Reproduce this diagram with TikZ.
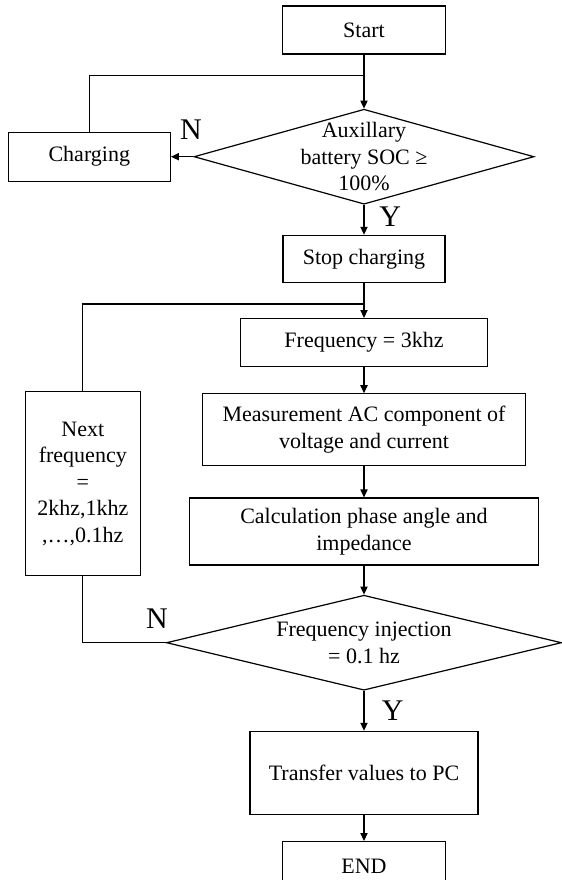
\documentclass[tikz,border=0pt]{standalone}
\usepackage{fontspec}
\setmainfont{Liberation Serif}
\usetikzlibrary{shapes.geometric,arrows.meta,positioning}

\begin{document}
\begin{tikzpicture}[
    font=\fontsize{11}{13.25}\selectfont,
    box/.style={rectangle, draw, line width=0.6pt, align=center, inner sep=2pt},
    decision/.style={diamond, draw, line width=0.6pt, inner sep=0pt},
    dtext/.style={align=center, inner sep=0pt},
    yn/.style={font=\fontsize{15}{18}\selectfont, inner sep=0pt},
    arrow/.style={-{Triangle[length=4pt, width=3.6pt]}, line width=0.6pt},
    line/.style={line width=0.6pt}
  ]
  \useasboundingbox (0,0) rectangle (281pt,-440pt);

  \node[box, minimum width=81.5pt, minimum height=24pt] (start) at (182pt,-15pt) {Start};
  \node[decision, minimum width=170pt, minimum height=47.5pt, below=27pt of start] (soc) {};
  \node[dtext] (soctxt) at (soc) {Auxillary\\battery SOC ≥\\100\%};
  \node[box, minimum width=81pt, minimum height=24.5pt, left=11.25pt of soc] (charge) {Charging};
  \node[box, minimum width=81pt, minimum height=23.5pt, below=15pt of soc] (stop) {Stop charging};
  \node[box, minimum width=123.5pt, minimum height=24pt, below=17.5pt of stop] (freq) {Frequency = 3khz};
  \node[box, minimum width=161.5pt, minimum height=36pt, below=13pt of freq] (meas) {Measurement AC component of\\voltage and current};
  \node[box, minimum width=174.5pt, minimum height=33.5pt, below=15.5pt of meas] (calc) {Calculation phase angle and\\impedance};
  \node[decision, minimum width=197.5pt, minimum height=47.5pt, below=14.5pt of calc] (inj) {};
  \node[dtext] (injtxt) at (inj) {Frequency injection\\= 0.1 hz};
  \node[box, minimum width=114pt, minimum height=41.5pt, below=20pt of inj] (transfer) {Transfer values to PC};
  \node[box, minimum width=81.5pt, minimum height=25pt, below=13pt of transfer] (end) {END};
  \node[box, minimum width=57.5pt, minimum height=92pt, left=30.5pt of meas.north west, anchor=north east, yshift=1pt] (next) {Next\\frequency\\=\\2khz,1khz\\,…,0.1hz};

  % yes / no labels
  \node[yn, above=8.5pt of soc.west, xshift=-1.25pt] (no1) {N};
  \node[yn, below right=1pt and 7.5pt of soc.south] (yes1) {Y};
  \node[yn, above=6.75pt of inj.west, xshift=-4.5pt] (no2) {N};
  \node[yn, below right=5pt and 8.75pt of inj.south] (yes2) {Y};

  % joins for the loops
  \coordinate[below=10.5pt of start.south] (join1);
  \coordinate[below=10.5pt of stop.south] (join2);

  \draw[arrow] (start.south) -- (soc.north);
  \draw[line] (charge.north) |- (join1);
  \draw[arrow] (soc.west) -- (charge.east);
  \draw[arrow] (soc.south) -- (stop.north);
  \draw[arrow] (stop.south) -- (freq.north);
  \draw[line] (next.north) |- (join2);
  \draw[arrow] (freq) -- (meas);
  \draw[arrow] (meas) -- (calc);
  \draw[arrow] (calc.south) -- (inj.north);
  \draw[line] (next.south) |- (inj.west);
  \draw[arrow] (inj.south) -- (transfer.north);
  \draw[arrow] (transfer) -- (end);
\end{tikzpicture}
\end{document}
